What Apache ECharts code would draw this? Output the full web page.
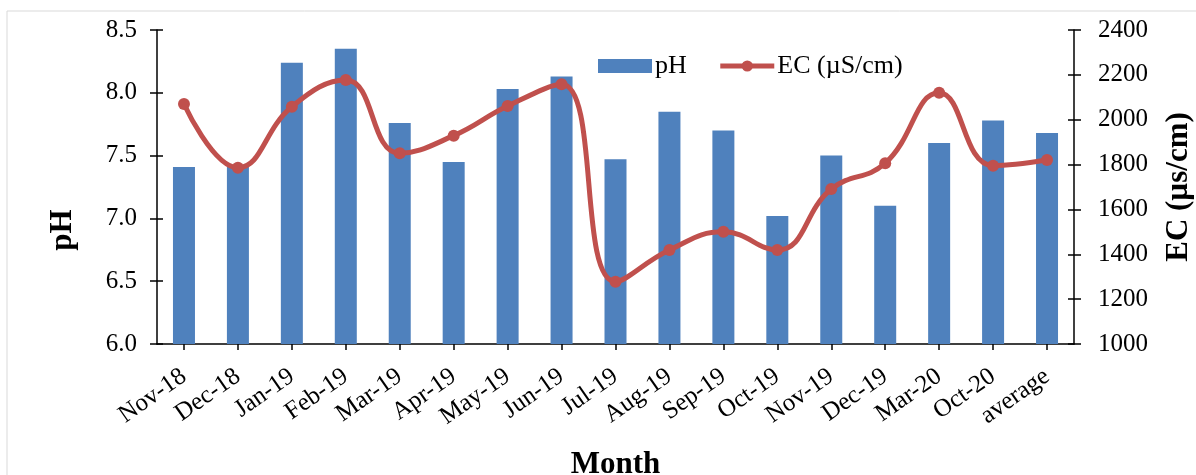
<!DOCTYPE html>
<html>
<head>
<meta charset="utf-8">
<script src="https://cdn.jsdelivr.net/npm/echarts@6/dist/echarts.min.js"></script>
<style>
  html, body { margin: 0; padding: 0; background: #fff; }
  #chart { width: 1196px; height: 475px; }
</style>
</head>
<body>
<div id="chart"></div>
<script>
// Monthly water quality: pH (bars, left axis) and electrical conductivity (line, right axis)
const months = ['Nov-18', 'Dec-18', 'Jan-19', 'Feb-19', 'Mar-19', 'Apr-19', 'May-19', 'Jun-19',
  'Jul-19', 'Aug-19', 'Sep-19', 'Oct-19', 'Nov-19', 'Dec-19', 'Mar-20', 'Oct-20', 'average'];
const phValues = [7.41, 7.42, 8.24, 8.35, 7.76, 7.45, 8.03, 8.13, 7.47, 7.85, 7.70, 7.02, 7.50, 7.10, 7.60, 7.78, 7.68];
const ecValues = [2070, 1786, 2058, 2177, 1850, 1929, 2061, 2158, 1278, 1419, 1500, 1419, 1691, 1806, 2120, 1795, 1820];
const phTicks = { min: 6.0, max: 8.5, interval: 0.5 };
const ecTicks = { min: 1000, max: 2400, interval: 200 };

const FONT = '"Liberation Serif", "Times New Roman", serif';
const BLUE = '#4F81BD';
const RED = '#C0504D';

const chart = echarts.init(document.getElementById('chart'));

const axisLine = { show: true, lineStyle: { color: '#000', width: 1.5 } };
const tickStyle = { color: '#000', width: 1.5 };
const labelStyle = { color: '#000', fontFamily: FONT, fontSize: 25 };
const titleStyle = { color: '#000', fontFamily: FONT, fontSize: 31, fontWeight: 'bold' };

chart.setOption({
  animation: false,
  textStyle: { fontFamily: FONT },
  graphic: [{
    type: 'rect',
    shape: { x: 7, y: 11, width: 1300, height: 600 },
    style: { fill: 'none', stroke: '#d9d9d9', lineWidth: 1 },
    silent: true
  }, {
    type: 'text',
    x: 63, y: 230,
    rotation: Math.PI / 2,
    style: { text: 'pH', textAlign: 'center', textVerticalAlign: 'middle', fill: '#000', font: 'bold 31px ' + FONT },
    silent: true
  }],
  grid: { left: 157, right: 122, top: 30, bottom: 131, outerBoundsMode: 'none', containLabel: false },
  legend: {
    left: 593, top: 48,
    itemWidth: 54, itemHeight: 14, itemGap: 31,
    lineStyle: { width: 5 },
    textStyle: { color: '#000', fontFamily: FONT, fontSize: 26, padding: [0, 0, 0, -2] },
    data: [
      { name: 'pH', icon: 'rect' },
      { name: 'EC (µS/cm)' }
    ]
  },
  xAxis: [{
    type: 'category',
    data: months,
    position: 'bottom',
    axisLine: axisLine,
    axisTick: { show: true, alignWithLabel: true, interval: 0, length: 6, lineStyle: tickStyle },
    axisLabel: Object.assign({ interval: 0, rotate: 35, margin: 30 }, labelStyle),
    name: 'Month',
    nameLocation: 'middle',
    nameGap: 105,
    nameTextStyle: titleStyle
  }, {
    type: 'category',
    data: months,
    position: 'bottom',
    axisLine: { show: false },
    axisTick: { show: true, inside: true, alignWithLabel: true, interval: 0, length: 5, lineStyle: tickStyle },
    axisLabel: { show: false }
  }],
  yAxis: [{
    type: 'value',
    position: 'left',
    min: phTicks.min, max: phTicks.max, interval: phTicks.interval,
    axisLine: axisLine,
    splitLine: { show: false },
    axisTick: { show: true, length: 7, lineStyle: tickStyle },
    axisLabel: Object.assign({ margin: 20, formatter: v => v.toFixed(1) }, labelStyle)
  }, {
    type: 'value',
    position: 'right',
    min: ecTicks.min, max: ecTicks.max, interval: ecTicks.interval,
    axisLine: axisLine,
    splitLine: { show: false },
    axisTick: { show: true, length: 7, lineStyle: tickStyle },
    axisLabel: Object.assign({ margin: 24, formatter: v => String(v) }, labelStyle),
    name: 'EC (µs/cm)',
    nameLocation: 'middle',
    nameRotate: 90,
    nameGap: 89,
    nameTextStyle: titleStyle
  }, {
    // inner halves of the crossing ticks
    type: 'value', position: 'left', min: phTicks.min, max: phTicks.max, interval: phTicks.interval,
    axisLine: { show: false }, splitLine: { show: false }, axisLabel: { show: false },
    axisTick: { show: true, inside: true, length: 6, lineStyle: tickStyle }
  }, {
    type: 'value', position: 'right', min: ecTicks.min, max: ecTicks.max, interval: ecTicks.interval,
    axisLine: { show: false }, splitLine: { show: false }, axisLabel: { show: false },
    axisTick: { show: true, inside: true, length: 6, lineStyle: tickStyle }
  }],
  series: [{
    name: 'pH',
    type: 'bar',
    xAxisIndex: 0,
    yAxisIndex: 0,
    data: phValues,
    barWidth: 22,
    itemStyle: { color: BLUE },
    z: 2
  }, {
    name: 'EC (µS/cm)',
    type: 'line',
    xAxisIndex: 0,
    yAxisIndex: 1,
    data: ecValues,
    smooth: 0.45,
    symbol: 'circle',
    symbolSize: 12,
    lineStyle: { color: RED, width: 5 },
    itemStyle: { color: RED },
    z: 3
  }]
});
</script>
</body>
</html>
